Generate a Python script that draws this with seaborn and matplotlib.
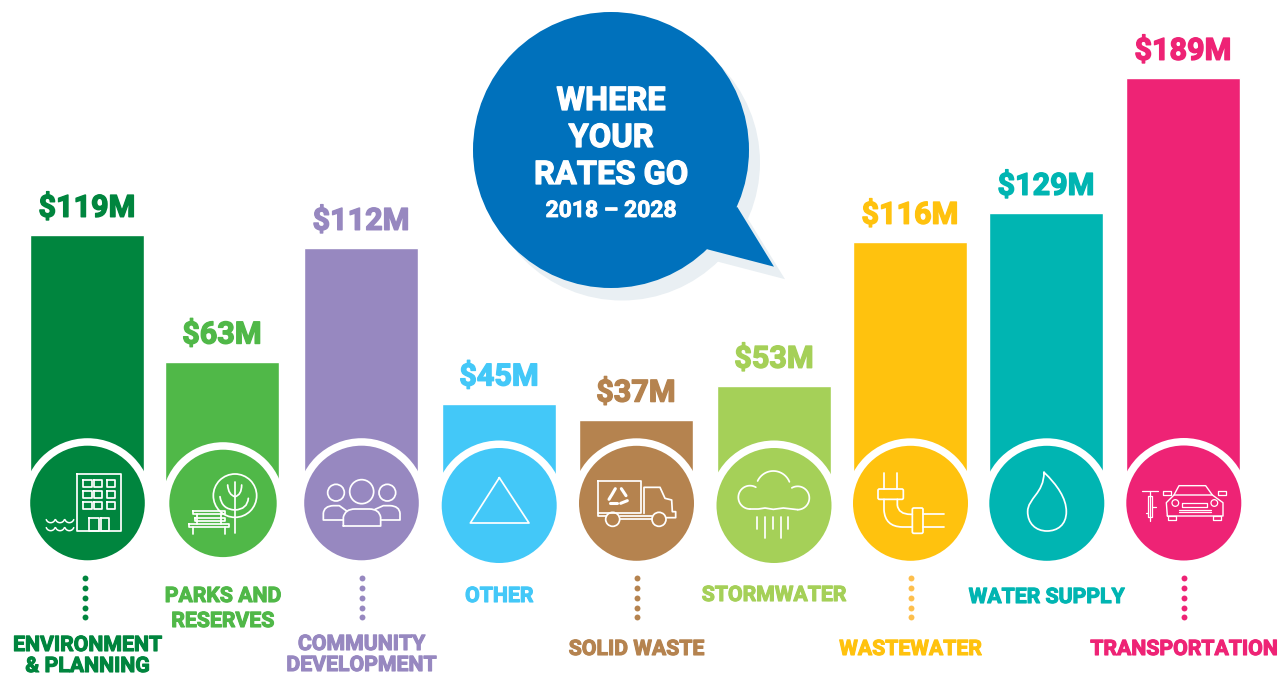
import numpy as np
import matplotlib
matplotlib.use('Agg')
import matplotlib.pyplot as plt
import matplotlib.patheffects as pe
import seaborn as sns
from matplotlib.patches import Circle, Polygon, FancyBboxPatch, PathPatch
from matplotlib.path import Path

# Data
categories = ['Environment', 'Parks', 'Community', 'Other', 'Solid waste',
              'Stormwater', 'Wastewater', 'Water supply', 'Transportation']
value_labels = ['$119M', '$63M', '$112M', '$45M', '$37M', '$53M', '$116M', '$129M', '$189M']
# bar heights, the drawn bars differ a little from their labels
bar_heights = [119, 62.5, 113.2, 43.8, 36.6, 51.7, 115.9, 128.8, 189]
label_lines = [['ENVIRONMENT', '& PLANNING'], ['PARKS AND', 'RESERVES'],
               ['COMMUNITY', 'DEVELOPMENT'], ['OTHER'], ['SOLID WASTE'],
               ['STORMWATER'], ['WASTEWATER'], ['WATER SUPPLY'], ['TRANSPORTATION']]
title_lines = ['WHERE', 'YOUR', 'RATES GO']
subtitle = '2018 – 2028'

# Styles and layout (pixels of the 1279x678 picture)
colors = ['#00853E', '#50B848', '#9788C0', '#43C8F8', '#B5834F',
          '#A5D058', '#FFC20E', '#00B5B2', '#EE2375']
bar_centres = [87.5, 222.5, 361.5, 499.5, 636.5, 774.5, 910.5, 1046.5, 1183.5]
circle_x = [87.5, 223, 361.5, 499.2, 636.5, 774, 910.5, 1046.8, 1183.8]
circle_y = [503, 503.4, 503, 505.5, 503.3, 505.5, 503.3, 503.3, 503]
circle_r = [57.3, 53.7, 57.3, 57.5, 57.5, 57.5, 57.5, 57.5, 57.5]
label_base = [[651, 672], [602, 627], [650, 671], [602], [655], [601], [655], [603], [655]]
dot_x = {0: 85, 2: 361.7, 4: 636.7, 6: 911, 8: 1184}
dot_y = [578, 588, 598, 608, 616.7]
W, H = 1279, 678
baseline_px = 502.2
px_per_m = 2.243
FONT = 'Roboto'

sns.set_theme(style='white')
plt.rcParams['font.family'] = [FONT, 'DejaVu Sans']

fig = plt.figure(figsize=(W / 100, H / 100), dpi=100)
ax = fig.add_axes([0, 0, 1, 1])
sns.barplot(x=bar_centres, y=bar_heights, hue=categories, hue_order=categories, palette=colors,
            native_scale=True, width=113.5 / 135, dodge=False, legend=False, saturation=1, ax=ax)
ax.set_xlim(0.7, W + 0.7)
ax.set_ylim(-(H - baseline_px) / px_per_m, baseline_px / px_per_m)
ax.axis('off')


def heavy(c, w):
    # the original lettering is heavier than Roboto Bold
    return [pe.withStroke(linewidth=w, foreground=c)]


for x, v, txt, c in zip(bar_centres, bar_heights, value_labels, colors):
    ax.text(x, v + 18.5 / px_per_m, txt, color=c, fontsize=22, fontweight='bold',
            ha='center', va='baseline', path_effects=heavy(c, 1.0))

# Overlay in picture pixels for the bubble, circles and icons
deco = fig.add_axes([0, 0, 1, 1], facecolor='none')
deco.set_xlim(0, W)
deco.set_ylim(H, 0)
deco.axis('off')

# Speech bubble
for dx, dy, col in [(11, 12.5, '#E9EFF3'), (0, 0, '#0071BC')]:
    deco.add_patch(Circle((611 + dx, 150 + dy), 138, color=col, lw=0))
    deco.add_patch(Polygon([(737.3 + dx, 207 + dy), (774 + dx, 266.7 + dy), (707.3 + dx, 249.3 + dy),
                            (690 + dx, 220 + dy)], closed=True, color=col, lw=0))
for txt, base in zip(title_lines, [110, 147, 184]):
    deco.text(611, base, txt, color='white', fontsize=23.5, fontweight='bold', ha='center', va='baseline',
              path_effects=heavy('white', 0.9))
deco.text(611, 217, subtitle, color='white', fontsize=16.5, fontweight='bold', ha='center', va='baseline',
          path_effects=heavy('white', 0.6))

# Circles with their white rings
for i, c in enumerate(colors):
    deco.add_patch(Circle((circle_x[i], circle_y[i]), circle_r[i] + 7.5, color='white', lw=0))
    deco.add_patch(Circle((circle_x[i], circle_y[i]), circle_r[i], color=c, lw=0))

# Dotted leaders
for i, x in dot_x.items():
    dc = '#FDBF4D' if i == 6 else colors[i]
    deco.scatter([x] * len(dot_y), dot_y, s=18, color=dc, linewidths=0)

# Category labels
for lines, bases, x, c in zip(label_lines, label_base, circle_x, colors):
    for txt, base in zip(lines, bases):
        deco.text(x, base, txt, color=c, fontsize=15.3, fontweight='bold', ha='center', va='baseline',
                  path_effects=heavy(c, 0.8))


LW = 1.25


def to_px(pts, x0):
    return [(x0 + p[0] / 3, 430 + p[1] / 3) for p in pts]


def line(pts, x0, lw=LW):
    p = to_px(pts, x0)
    deco.plot([q[0] for q in p], [q[1] for q in p], color='white', lw=lw,
              solid_capstyle='round', solid_joinstyle='round')


def rect(x1, y1, x2, y2, x0, lw=LW):
    line([(x1, y1), (x2, y1), (x2, y2), (x1, y2), (x1, y1)], x0, lw)


def ring(cx, cy, r, x0, lw=LW):
    p = to_px([(cx, cy)], x0)[0]
    deco.add_patch(Circle(p, r / 3, fill=False, ec='white', lw=lw))


def arc(cx, cy, r, a0, a1, n=40):
    t = np.radians(np.linspace(a0, a1, n))
    return list(zip(cx + r * np.cos(t), cy - r * np.sin(t)))


def curve(verts, codes, x0, lw=LW):
    p = Path(to_px(verts, x0), codes)
    deco.add_patch(PathPatch(p, fill=False, ec='white', lw=lw, capstyle='round', joinstyle='round'))


def quad(p0, p1, p2, x0, lw=LW):
    curve([p0, p1, p2], [Path.MOVETO, Path.CURVE3, Path.CURVE3], x0, lw)


# Building and water
rect(232, 131, 362, 303, 0)
for wx in [(250, 275), (283, 307), (320, 344)]:
    for wy in [(150, 172), (183, 205), (216, 238)]:
        rect(wx[0], wy[0], wx[1], wy[1], 0)
rect(268, 265, 296, 303, 0)
rect(302, 265, 326, 303, 0)
for yy in [264, 288]:
    for cx in [152, 180, 208]:
        line(arc(cx, yy, 14, 200, 340), 0, lw=1.1)

# Tree and bench
ring(705, 197, 65, 0)
line([(705, 155), (705, 310)], 0)
quad((683, 165), (685, 195), (705, 200), 0)
quad((725, 165), (725, 195), (705, 200), 0)
quad((660, 200), (665, 238), (705, 240), 0)
quad((745, 205), (742, 238), (705, 240), 0)
rect(578, 242, 675, 253, 0)
rect(585, 263, 675, 274, 0)
rect(568, 281, 688, 292, 0)
line([(578, 292), (578, 311)], 0)
line([(674, 292), (674, 311)], 0)
line([(590, 253), (590, 281)], 0)
line([(664, 253), (664, 281)], 0)

# People
ring(1008, 188, 25, 0)
ring(1085, 185, 36, 0)
ring(1162, 188, 25, 0)
curve([(1030, 288), (1030, 262), (1035, 237), (1065, 237), (1108, 237), (1138, 237), (1142, 262), (1142, 288), (1030, 288)],
      [Path.MOVETO, Path.LINETO, Path.CURVE3, Path.CURVE3, Path.LINETO, Path.CURVE3, Path.CURVE3, Path.LINETO, Path.LINETO], 0)
curve([(1030, 270), (970, 270), (970, 250), (972, 228), (1000, 227), (1018, 227), (1040, 243)],
      [Path.MOVETO, Path.LINETO, Path.LINETO, Path.CURVE3, Path.CURVE3, Path.LINETO, Path.LINETO], 0)
curve([(1142, 270), (1200, 270), (1200, 250), (1198, 228), (1170, 227), (1150, 227), (1125, 238)],
      [Path.MOVETO, Path.LINETO, Path.LINETO, Path.CURVE3, Path.CURVE3, Path.LINETO, Path.LINETO], 0)

# Triangle
line([(208, 143), (121, 279), (297, 279), (208, 143)], 430)

# Truck with recycling mark
rect(505, 152, 632, 250, 430)
line([(642, 250), (642, 172), (690, 172), (705, 205), (725, 210), (727, 245), (737, 245), (737, 263), (708, 263)], 430)
line([(505, 250), (505, 258), (528, 258)], 430)
line([(570, 258), (665, 258)], 430)
line([(570, 268), (665, 268)], 430)
ring(548, 268, 21, 430)
ring(687, 268, 21, 430)
for seg in [[(556, 176), (545, 195)], [(574, 176), (588, 197)], [(592, 212), (572, 220)],
            [(560, 220), (540, 220)], [(537, 208), (543, 198)]]:
    line(seg, 430, lw=2.2)

# Cloud and rain
line(arc(960, 202, 35, 270, 60), 430)
line(arc(1030, 175, 52, 155, 22), 430)
line(arc(1103, 204, 35, 120, -90), 430)
line([(960, 237), (985, 237), (1005, 234), (1030, 238), (1060, 234), (1103, 239)], 430)
for rx, ry in zip([980, 1004, 1028, 1052, 1075], [298, 325, 298, 325, 298]):
    line([(rx, 262), (rx, ry)], 430)

# Pipe
line([(105, 130), (105, 177)], 849)
line([(145, 130), (145, 177)], 849)
deco.add_patch(FancyBboxPatch((849 + 87 / 3, 430 + 177 / 3), 76 / 3, 31 / 3, boxstyle='round,pad=0,rounding_size=1.5',
                              fill=False, ec='white', lw=LW))
curve([(105, 208), (105, 240), (108, 290), (160, 291), (190, 291)],
      [Path.MOVETO, Path.LINETO, Path.CURVE3, Path.CURVE3, Path.LINETO], 849)
curve([(145, 208), (145, 225), (148, 253), (185, 253), (190, 253)],
      [Path.MOVETO, Path.LINETO, Path.CURVE3, Path.CURVE3, Path.LINETO], 849)
deco.add_patch(FancyBboxPatch((849 + 190 / 3, 430 + 234 / 3), 32 / 3, 76 / 3, boxstyle='round,pad=0,rounding_size=1.5',
                              fill=False, ec='white', lw=LW))
line([(222, 253), (285, 253)], 849)
line([(222, 291), (285, 291)], 849)

# Drop
curve([(585, 127), (625, 165), (652, 205), (652, 245), (652, 285), (625, 303), (594, 303),
       (560, 303), (536, 280), (536, 245), (536, 205), (585, 190), (585, 127)],
      [Path.MOVETO] + [Path.CURVE4] * 12, 849)

# Bike
line([(880, 182), (926, 182)], 849, lw=0.9)
line([(903, 182), (903, 272)], 849, lw=0.9)
rect(897, 197, 910, 262, 849, lw=0.9)
line([(890, 248), (897, 248)], 849, lw=0.9)
line([(910, 230), (922, 230)], 849, lw=0.9)

# Car
line([(975, 195), (990, 167), (1070, 167), (1090, 195)], 849, lw=1.0)
line([(955, 258), (952, 218), (975, 195), (1090, 195), (1122, 218), (1122, 258), (955, 258)], 849, lw=1.0)
rect(943, 183, 965, 195, 849, lw=0.9)
rect(1108, 183, 1130, 195, 849, lw=0.9)
ring(979, 219, 10, 849, lw=0.9)
ring(1096, 219, 10, 849, lw=0.9)
rect(998, 219, 1075, 230, 849, lw=0.9)
line([(990, 240), (1085, 240)], 849, lw=0.9)
line([(990, 246), (1085, 246)], 849, lw=0.9)
rect(957, 258, 982, 270, 849, lw=0.9)
rect(1092, 258, 1117, 270, 849, lw=0.9)

fig.savefig('out.png', dpi=100)
